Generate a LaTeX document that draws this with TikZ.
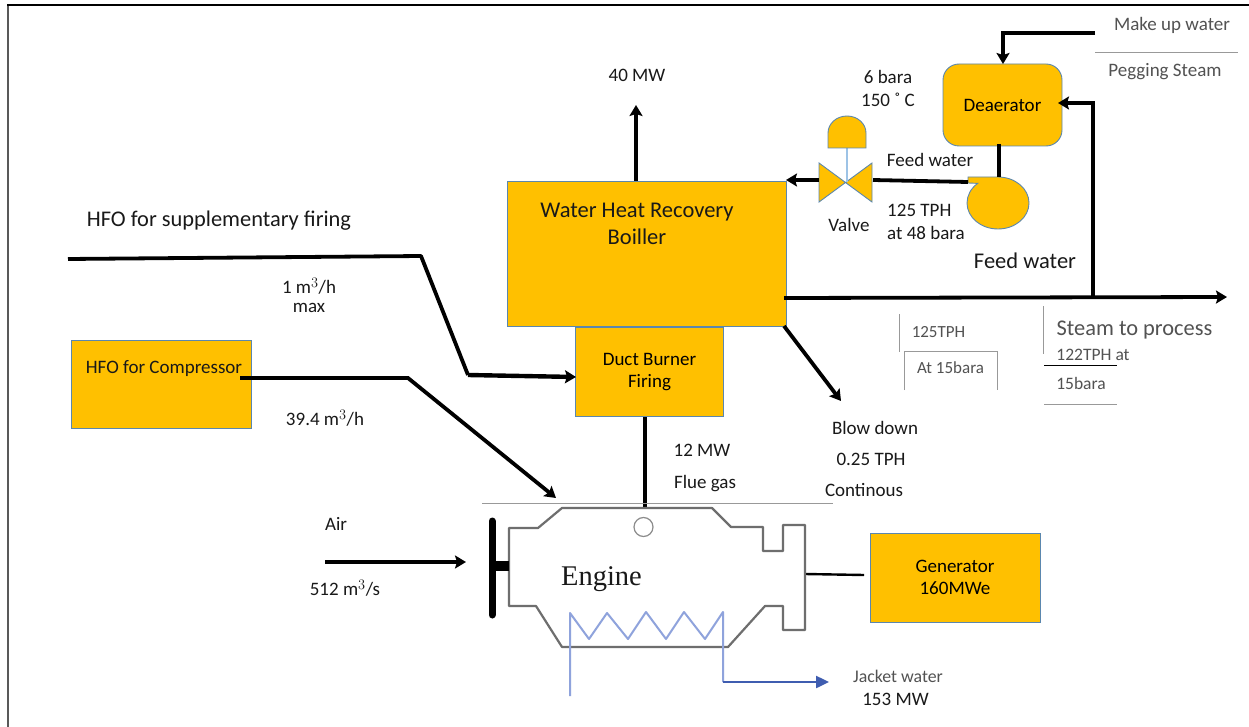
\documentclass[tikz,border=0pt]{standalone}
\usepackage{fontspec}
\setmainfont{Carlito}
\newfontfamily\engfont{Liberation Serif}
\usetikzlibrary{arrows.meta}
\definecolor{fillor}{HTML}{FFC000}
\definecolor{edgeb}{HTML}{5B87AE}
\definecolor{jack}{HTML}{8FA3DC}
\definecolor{jackd}{HTML}{3F5DB0}
\definecolor{engl}{HTML}{6E6E6E}
\definecolor{stem}{HTML}{9DC3E6}
\tikzset{
  x=1pt,y=-1pt,
  box/.style={draw=edgeb,fill=fillor,line width=0.9pt,inner sep=0pt,align=center},
  pipe/.style={line width=3.8pt,draw=black},
  pipea/.style={pipe,-{Stealth[length=11pt,width=13pt,inset=2pt]}},
  lbl/.style={font=\fontsize{19}{23}\selectfont,text=black!90,inner sep=0pt,align=center},
  lblg/.style={lbl,text=black!68},
  small lbl/.style={lblg,font=\fontsize{17.5}{21}\selectfont},
  thin rule/.style={line width=0.8pt,draw=black!40},
  eng/.style={line width=2.2pt,draw=engl,line join=round},
}
\begin{document}
\begin{tikzpicture}
\useasboundingbox (0,0) rectangle (1249,727);
\fill[white] (0,0) rectangle (1249,727);
% frame
\draw[line width=2pt,black!65] (7.5,727) -- (7.5,5);
\draw[line width=1.6pt,black] (7,5) -- (1249,5);
% boxes
\node[box,minimum width=279pt,minimum height=145pt] (boiler) at (646.5,253.5) {};
\node[lbl,font=\fontsize{22.5}{27}\selectfont] (boilert) at (637,223.5) {Water Heat Recovery\\Boiller};
\node[box,minimum width=148pt,minimum height=89pt,font=\fontsize{19}{22}\selectfont] (duct) at (649.5,372) {Duct Burner\\Firing};
\node[box,minimum width=180pt,minimum height=88pt] (hfoc) at (161,384) {};
\node[lbl] (hfoct) at (164,369) {HFO for Compressor};
\node[box,minimum width=170pt,minimum height=89pt,font=\fontsize{19}{22}\selectfont] (gen) at (955,577.5) {Generator\\160MWe};
\node[box,rounded corners=16pt,minimum width=119pt,minimum height=82pt,font=\fontsize{19}{22}\selectfont] (dea) at (1002.5,105) {Deaerator};
% pump
\draw[fill=fillor,draw=edgeb,line width=0.9pt] (968,177) -- (998,177)
  arc[start angle=90,end angle=-229,x radius=31pt,y radius=26pt] -- (968,183) -- cycle;
% valve
\draw[fill=fillor,draw=edgeb,line width=0.9pt] (819,163) -- (872,202) -- (872,163) -- (819,202) -- cycle;
\draw[line width=1.2pt,draw=stem] (847,148) -- (847,182);
\draw[fill=fillor,draw=edgeb,line width=0.9pt] (828,148) -- (828,133) arc[start angle=180,end angle=0,x radius=19pt,y radius=17pt] -- (866,148) -- cycle;
\coordinate (valveL) at (819,180);
\coordinate (valveR) at (873,180);
% pipes
\coordinate (mk) at (1095,33);
\coordinate (mkc) at (1003,33);
\coordinate (mkd) at (1003,64);
\draw[pipea] (mk) -- (mkc) -- (mkd);
\coordinate (peg) at (1093,297);
\coordinate (pegc) at (1093,103);
\coordinate (pegd) at (1058,103);
\draw[pipea] (peg) -- (pegc) -- (pegd);
\coordinate (deaout) at (999,144);
\coordinate (pumpin) at (999,177);
\coordinate (pumpout) at (968,182);
\draw[pipe] (deaout) -- (pumpin);
\draw[pipe] (pumpout) -- (valveR);
\coordinate (boilin) at (786,180);
\draw[pipea] (valveL) -- (boilin);
\coordinate (steam0) at (784,298);
\coordinate (steam) at (1227,297);
\draw[pipea] (steam0) -- (steam);
\coordinate (mw0) at (636,181);
\coordinate (mw) at (636,105);
\draw[pipea] (mw0) -- (mw);
\coordinate (hfo1) at (68,259);
\coordinate (hfo1b) at (421,256);
\coordinate (hfo1c) at (468,375);
\coordinate (ductin) at (576,377);
\draw[pipe,line join=round] (hfo1) -- (hfo1b) -- (hfo1c);
\draw[pipea,line width=4.4pt] (hfo1c) -- (ductin);
\coordinate (hfo2) at (240,378);
\coordinate (hfo2b) at (408,378);
\coordinate (engtop) at (556,498);
\draw[pipea] (hfo2) -- (hfo2b) -- (engtop);
\coordinate (bd0) at (784,326);
\coordinate (bd) at (841,401);
\draw[pipea] (bd0) -- (bd);
\coordinate (ft0) at (645,417);
\coordinate (ft) at (645,507);
\draw[pipe] (ft0) -- (ft);
\coordinate (air0) at (325,562);
\coordinate (air1) at (466,562);
\draw[pipea] (air0) -- (air1);
\coordinate (gensh) at (805,574);
\coordinate (genin) at (864,575);
\draw[line width=2.4pt] (gensh) -- (genin);
% rules
\draw[thin rule] (482,503) -- (833,503);
\draw[thin rule] (1095,52) -- (1238,52);
\draw[thin rule] (899,314) -- (899,352);
\draw[thin rule] (904,390) -- (904,351) -- (997,351) -- (997,390);
\draw[thin rule] (1043,306) -- (1043,354);
\draw[thin rule] (1044,404) -- (1117,404);
\draw[line width=1pt,black] (1044,365) -- (1117,365);
% engine
\draw[eng] (509,528) -- (538,528) -- (562,508) -- (712,508) -- (731,527) -- (763,527) -- (763,551) -- (783,551) -- (783,525) -- (805,525) -- (805,630) -- (783,630) -- (783,606) -- (765,606) -- (728,647) -- (562,647) -- (536,606) -- (509,606) -- cycle;
\draw[line width=7pt,line cap=round,black] (492,521) -- (492,615);
\draw[line width=10pt,black] (495,566) -- (509,566);
\draw[line width=1.2pt,draw=black!45] (643.5,527) circle (9.5pt);
\node[font=\fontsize{28.5}{32}\selectfont\engfont,text=black!90,inner sep=0pt] (eng) at (601.5,579) {Engine};
\draw[line width=2pt,draw=jack,line join=round] (570,696) -- (570,613) -- (589,639) -- (607,613) -- (628,639) -- (646,612) -- (666,639) -- (684,612) -- (705,639) -- (723,612) -- (723,682);
\coordinate (jk0) at (723,682);
\coordinate (jk) at (829,682);
\draw[line width=2.4pt,draw=jackd,-{Triangle[length=13pt,width=12pt]}] (jk0) -- (jk);
% labels
\node[lbl] (t40) at (637,75) {40 MW};
\node[lbl] (t6) at (888,77) {6 bara};
\node[lbl] (t150) at (888,100) {150 ˚ C};
\node[lbl] (tfw) at (930,160) {Feed water};
\node[lbl] (tv) at (849,225) {Valve};
\node[lbl,align=left] (t125) at (926,222) {125 TPH\\at 48 bara};
\node[lbl,font=\fontsize{22.5}{27}\selectfont] (tfw2) at (1025,261) {Feed water};
\node[lblg] (tmk) at (1172,25) {Make up water};
\node[lblg] (tpeg) at (1165,72) {Pegging Steam};
\node[lbl,font=\fontsize{22.4}{27}\selectfont] (thfo) at (219,221) {HFO for supplementary firing};
\node[lbl] (t1m) at (309,286) {1 m$^3$/h};
\node[lbl] (tmax) at (309,308) {max};
\node[lbl] (t39) at (325,418) {39.4 m$^3$/h};
\node[lbl] (t12) at (702,450) {12 MW};
\node[lbl] (tfg) at (705,484) {Flue gas};
\node[lbl] (tbd) at (875,428) {Blow down};
\node[lbl] (t025) at (871,459) {0.25 TPH};
\node[lbl] (tcont) at (864,490) {Continous};
\node[lbl] (tair) at (336,524) {Air};
\node[lbl] (t512) at (345,588) {512 m$^3$/s};
\node[lblg,font=\fontsize{17.8}{21}\selectfont] (tjk) at (898,676) {Jacket water};
\node[lbl] (t153) at (895.5,699) {153 MW};
\node[small lbl,font=\fontsize{17}{20}\selectfont] (t125t) at (938.5,332) {125TPH};
\node[small lbl,font=\fontsize{17}{20}\selectfont] (t15a) at (950.5,368) {At 15bara};
\node[lblg,font=\fontsize{22.4}{27}\selectfont] (tsp) at (1134.5,330) {Steam to process};
\node[small lbl] (t122) at (1093,355) {122TPH at};
\node[small lbl] (t15b) at (1081,383) {15bara};
\end{tikzpicture}
\end{document}
